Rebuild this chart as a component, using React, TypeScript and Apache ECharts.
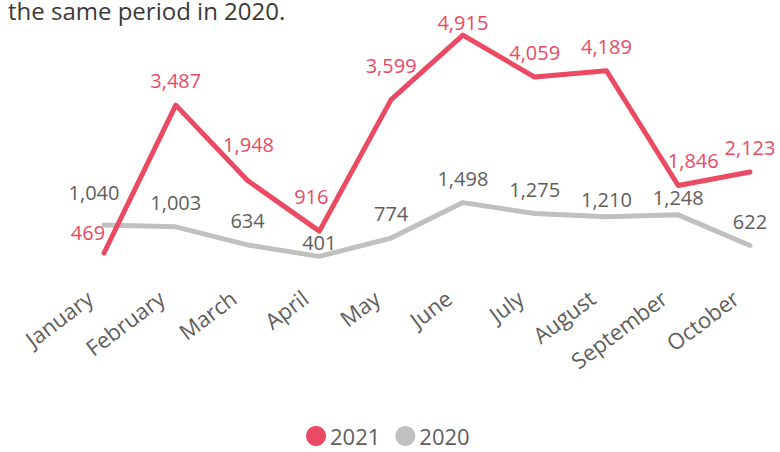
import React, { useEffect, useRef } from "react";
import * as echarts from "echarts";

const months = ["January", "February", "March", "April", "May", "June", "July", "August", "September", "October"];
const values2021 = [469, 3487, 1948, 916, 3599, 4915, 4059, 4189, 1846, 2123];
const values2020 = [1040, 1003, 634, 401, 774, 1498, 1275, 1210, 1248, 622];
const seriesNames = ["2021", "2020"];
const subtitleText = "the same period in 2020.";

// label nudges (style only), keyed by point index
const offsets2021: Record<number, [number, number]> = {
  0: [-16, 4],
  2: [1, -12],
  3: [-8, -10],
  4: [0, -10],
  5: [0, 12],
  8: [15, -1],
};
const offsets2020: Record<number, [number, number]> = {
  0: [-10, -8],
  3: [0, 11],
  7: [0, 7],
  8: [0, 7],
};

const RED = "#EA4A62";
const GREY = "#C0C0C0";
const TEXT = "#605E5C";
const FONT = "'Open Sans', 'Noto Sans', sans-serif";

function buildData(values: number[], offs: Record<number, [number, number]>) {
  return values.map((v, i) =>
    offs[i] ? { value: v, label: { offset: offs[i] } } : { value: v }
  );
}

export default function App() {
  const ref = useRef<HTMLDivElement>(null);
  useEffect(() => {
    if (!ref.current) return;
    const chart = echarts.init(ref.current, undefined, { renderer: "svg" });
    chart.setOption({
      animation: false,
      textStyle: { fontFamily: FONT },
      graphic: [
        {
          type: "text",
          left: 8,
          top: -2,
          style: {
            text: subtitleText,
            fontSize: 24,
            fontFamily: FONT,
            fill: "#3B3A39",
          },
        },
      ],
      grid: { left: 104, right: 30, top: 31, bottom: 176 },
      legend: {
        data: seriesNames,
        bottom: 0,
        left: 301,
        icon: "circle",
        itemWidth: 20,
        itemHeight: 20,
        itemGap: 15,
        textStyle: { fontSize: 22, color: TEXT, fontFamily: FONT, padding: [0, 0, 0, -1] },
      },
      xAxis: {
        type: "category",
        data: months,
        boundaryGap: false,
        axisLine: { show: false },
        axisTick: { show: false },
        axisLabel: {
          rotate: 37,
          margin: 8,
          fontSize: 22,
          color: TEXT,
          fontFamily: FONT,
          interval: 0,
          padding: [0, 18, 0, 0],
        },
      },
      yAxis: {
        type: "value",
        min: 0,
        max: 5000,
        show: false,
        splitLine: { show: false },
      },
      series: [
        {
          name: seriesNames[1],
          type: "line",
          data: buildData(values2020, offsets2020),
          symbol: "circle",
          symbolSize: 1,
          lineStyle: { color: GREY, width: 5, cap: "round", join: "round" },
          itemStyle: { color: GREY },
          label: {
            show: true,
            position: "top",
            distance: 14,
            fontSize: 20,
            color: TEXT,
            fontFamily: FONT,
            formatter: (p: any) => Number(p.value).toLocaleString("en-US"),
          },
          z: 2,
        },
        {
          name: seriesNames[0],
          type: "line",
          data: buildData(values2021, offsets2021),
          symbol: "circle",
          symbolSize: 1,
          lineStyle: { color: RED, width: 5, cap: "round", join: "round" },
          itemStyle: { color: RED },
          label: {
            show: true,
            position: "top",
            distance: 14,
            fontSize: 20,
            color: RED,
            fontFamily: FONT,
            formatter: (p: any) => Number(p.value).toLocaleString("en-US"),
          },
          z: 3,
        },
      ],
    });
    return () => chart.dispose();
  }, []);
  return (
    <div
      ref={ref}
      style={{ position: "fixed", left: 0, top: 0, width: 780, height: 452, background: "#fff" }}
    />
  );
}
